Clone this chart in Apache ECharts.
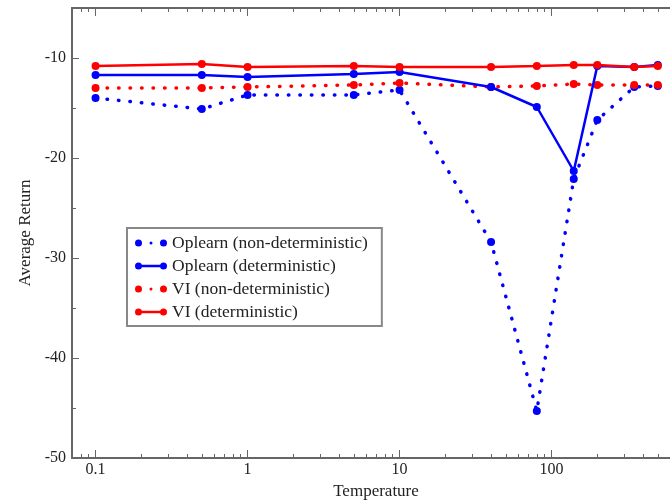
<!DOCTYPE html>
<html>
<head>
<meta charset="utf-8">
<script src="https://cdn.jsdelivr.net/npm/echarts@6/dist/echarts.min.js"></script>
<style>
  html, body { margin: 0; padding: 0; background: #fff; }
  #chart { width: 670px; height: 502px; }
</style>
</head>
<body>
<div id="chart"></div>
<script>
// temperature values (x, log scale)
var temps = [0.1, 0.5, 1, 5, 10, 40, 80, 140, 200, 350, 500];
// average return for each run
var oplearnNonDet = [-14.0, -15.1, -13.7, -13.7, -13.2, -28.4, -45.3, -22.1, -16.2, -12.9, -12.8];
var oplearnDet = [-11.7, -11.7, -11.9, -11.6, -11.4, -12.9, -14.9, -21.3, -10.8, -10.9, -10.7];
var viNonDet = [-13.0, -13.0, -12.9, -12.7, -12.5, -12.9, -12.8, -12.6, -12.7, -12.7, -12.7];
var viDet = [-10.8, -10.6, -10.9, -10.8, -10.9, -10.9, -10.8, -10.7, -10.7, -10.9, -10.8];
var names = ["Oplearn (non-deterministic)", "Oplearn (deterministic)", "VI (non-deterministic)", "VI (deterministic)"];

function pairs(ys) {
  var out = [];
  for (var i = 0; i < temps.length; i++) {
    out.push([temps[i], ys[i]]);
  }
  return out;
}

var font = "Liberation Serif";
var axisColor = '#666';
var textColor = '#222';

// legend icons: two end dots joined by a bar, or with a small middle dot
var dot = function (cx, r) {
  return 'M' + (cx - r) + ',3.5 A' + r + ',' + r + ' 0 1,1 ' + (cx + r) + ',3.5 A' + r + ',' + r + ' 0 1,1 ' + (cx - r) + ',3.5 Z ';
};
var iconSolid = 'path://' + dot(3.5, 3.5) + dot(28.5, 3.5) + 'M6.5,2.2 L25.5,2.2 L25.5,4.8 L6.5,4.8 Z';
var iconDotted = 'path://' + dot(3.5, 3.5) + dot(28.5, 3.5) + dot(16, 1.5);

function makeSeries(name, ys, color, dotted) {
  return {
    name: name,
    type: 'line',
    data: pairs(ys),
    symbol: 'circle',
    symbolSize: 8,
    itemStyle: { color: color },
    lineStyle: dotted
      ? { color: color, width: 3.5, type: [0.5, 11], cap: 'round' }
      : { color: color, width: 2.5 },
    z: dotted ? 2 : 3
  };
}

function decadeLabel(v) {
  var l = Math.log(v) / Math.LN10;
  if (Math.abs(l - Math.round(l)) > 1e-6) return '';
  return String(v);
}

var myChart = echarts.init(document.getElementById('chart'));
var option = {
  backgroundColor: '#fff',
  animation: false,
  grid: {
    left: 72,
    right: -10,
    top: 8,
    bottom: 44,
    outerBoundsMode: 'none'
  },
  legend: {
    orient: 'vertical',
    left: 127,
    top: 228,
    padding: [6, 14, 5, 8],
    itemWidth: 32,
    itemHeight: 7,
    itemGap: 5,
    borderColor: '#888',
    borderWidth: 2,
    data: [
      { name: names[0], icon: iconDotted },
      { name: names[1], icon: iconSolid },
      { name: names[2], icon: iconDotted },
      { name: names[3], icon: iconSolid }
    ],
    textStyle: { fontFamily: font, fontSize: 17.5, color: textColor }
  },
  xAxis: [{
    type: 'log',
    logBase: 10,
    min: 0.07,
    max: 700,
    name: 'Temperature',
    nameLocation: 'middle',
    nameGap: 25,
    nameTextStyle: { fontFamily: font, fontSize: 17, color: textColor },
    axisLine: { lineStyle: { color: axisColor, width: 2 } },
    axisTick: { inside: true, length: 8, lineStyle: { color: axisColor, width: 1 } },
    minorTick: { show: true, splitNumber: 9, length: 4, lineStyle: { color: axisColor, width: 1 } },
    splitLine: { show: false },
    axisLabel: {
      fontFamily: font, fontSize: 16, color: textColor, margin: 4,
      showMinLabel: false, showMaxLabel: false,
      formatter: decadeLabel
    }
  }, {
    type: 'log',
    logBase: 10,
    position: 'top',
    min: 0.07,
    max: 700,
    axisLine: { lineStyle: { color: axisColor, width: 2 } },
    axisTick: { inside: true, length: 8, lineStyle: { color: axisColor, width: 1 } },
    minorTick: { show: true, splitNumber: 9, length: 4, lineStyle: { color: axisColor, width: 1 } },
    splitLine: { show: false },
    axisLabel: { show: false }
  }],
  yAxis: {
    type: 'value',
    min: -50,
    max: -5,
    interval: 10,
    name: 'Average Return',
    nameLocation: 'middle',
    nameGap: 36,
    nameTextStyle: { fontFamily: font, fontSize: 17, color: textColor },
    axisLine: { show: true, lineStyle: { color: axisColor, width: 2 } },
    axisTick: { inside: true, length: 7, lineStyle: { color: axisColor, width: 1 } },
    minorTick: { show: true, splitNumber: 2, length: 4, lineStyle: { color: axisColor, width: 1 } },
    splitLine: { show: false },
    axisLabel: { fontFamily: font, fontSize: 16, color: textColor, margin: 6, showMaxLabel: false }
  },
  series: [
    makeSeries(names[0], oplearnNonDet, '#0000ff', true),
    makeSeries(names[1], oplearnDet, '#0000ff', false),
    makeSeries(names[2], viNonDet, '#ff0000', true),
    makeSeries(names[3], viDet, '#ff0000', false)
  ]
};
myChart.setOption(option);
</script>
</body>
</html>
